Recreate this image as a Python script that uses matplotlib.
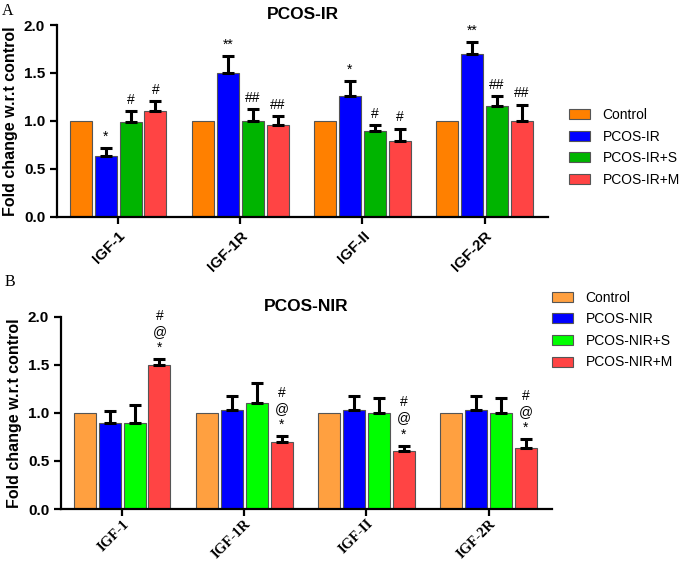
import numpy as np
import matplotlib
matplotlib.use("Agg")
import matplotlib.pyplot as plt

genes = ["IGF-1", "IGF-1R", "IGF-II", "IGF-2R"]

# panel A: PCOS-IR
groups_a = ["Control", "PCOS-IR", "PCOS-IR+S", "PCOS-IR+M"]
mean_a = [
    [1.00, 1.00, 1.00, 1.00],
    [0.63, 1.50, 1.26, 1.70],
    [0.99, 1.00, 0.90, 1.16],
    [1.10, 0.96, 0.79, 1.00],
]
err_a = [
    [0.00, 0.00, 0.00, 0.00],
    [0.09, 0.18, 0.16, 0.12],
    [0.11, 0.12, 0.06, 0.10],
    [0.11, 0.09, 0.13, 0.17],
]
sig_a = [
    ["", "", "", ""],
    ["*", "**", "*", "**"],
    ["#", "##", "#", "##"],
    ["#", "##", "#", "##"],
]

# panel B: PCOS-NIR
groups_b = ["Control", "PCOS-NIR", "PCOS-NIR+S", "PCOS-NIR+M"]
mean_b = [
    [1.00, 1.00, 1.00, 1.00],
    [0.90, 1.03, 1.03, 1.03],
    [0.90, 1.10, 1.00, 1.00],
    [1.50, 0.70, 0.60, 0.63],
]
err_b = [
    [0.00, 0.00, 0.00, 0.00],
    [0.12, 0.15, 0.15, 0.15],
    [0.18, 0.21, 0.16, 0.16],
    [0.06, 0.06, 0.06, 0.10],
]
sig_b = [
    ["", "", "", ""],
    ["", "", "", ""],
    ["", "", "", ""],
    ["#@*", "#@*", "#@*", "#@*"],
]

colors_a = ["#FF8000", "#0000FF", "#00B400", "#FF4444"]
colors_b = ["#FFA040", "#0000FF", "#00FF00", "#FF4444"]

SANS = "Liberation Sans"
SERIF = "Liberation Serif"

fig = plt.figure(figsize=(6.85, 5.62), dpi=100)
ax_a = fig.add_axes([0.0832, 0.614, 0.717, 0.3415])
ax_b = fig.add_axes([0.089, 0.0943, 0.717, 0.342])

bar_w = 0.18
step = 0.204


def draw_panel(ax, groups, means, errs, sigs, colors, title, tick_font, tick_size, xpad, stacked):
    x = np.arange(len(genes))
    handles = []
    for i, g in enumerate(groups):
        xs = x + (i - 1.5) * step
        h = ax.bar(xs, means[i], width=bar_w, color=colors[i], edgecolor="#555555",
                   linewidth=0.8, label=g, zorder=2)
        handles.append(h)
        up = np.array(errs[i])
        if up.any():
            ax.errorbar(xs, means[i], yerr=[np.zeros_like(up), up], fmt="none",
                        ecolor="black", elinewidth=2.2, capsize=4, capthick=2.2, zorder=3)
        for j in range(len(genes)):
            s = sigs[i][j]
            if not s:
                continue
            top = means[i][j] + errs[i][j]
            if stacked:
                for k, ch in enumerate(reversed(s)):
                    ax.annotate(ch, (xs[j], top), xytext=(0, 3 + k * 11.5),
                                textcoords="offset points", ha="center", va="bottom",
                                fontsize=10, family=SANS)
            else:
                ax.annotate(s, (xs[j], top), xytext=(0, 3), textcoords="offset points",
                            ha="center", va="bottom", fontsize=10, family=SANS)

    ax.set_xlim(-0.5, 3.52)
    ax.set_ylim(0, 2.0)
    ax.set_yticks([0.0, 0.5, 1.0, 1.5, 2.0])
    ax.set_yticklabels(["0.0", "0.5", "1.0", "1.5", "2.0"], family=SANS,
                       fontweight="bold", fontsize=11)
    ax.set_xticks(x)
    ax.set_xticklabels(genes, rotation=45, ha="right", rotation_mode="anchor",
                       family=tick_font, fontweight="bold", fontsize=tick_size)
    for side in ["top", "right"]:
        ax.spines[side].set_visible(False)
    for side in ["left", "bottom"]:
        ax.spines[side].set_linewidth(1.6)
    ax.tick_params(axis="both", width=1.6, length=5, direction="out")
    ax.tick_params(axis="x", pad=xpad)
    ax.set_ylabel("Fold change w.r.t control", family=SANS, fontweight="bold",
                  fontsize=11.5, labelpad=4)
    ax.set_title(title, family=SANS, fontweight="bold", fontsize=12.5, pad=4)
    return handles


h_a = draw_panel(ax_a, groups_a, mean_a, err_a, sig_a, colors_a, "PCOS-IR", SANS, 11, 3.5, False)
h_b = draw_panel(ax_b, groups_b, mean_b, err_b, sig_b, colors_b, "PCOS-NIR", SERIF, 10.5, 1.0, True)

leg_kw = dict(frameon=False, prop={"family": SANS, "size": 10}, handlelength=1.5,
              handleheight=0.75, labelspacing=0.55, handletextpad=0.9,
              borderaxespad=0, borderpad=0)
fig.legend(h_a, groups_a, loc="upper left", bbox_to_anchor=(0.831, 0.808), **leg_kw)
fig.legend(h_b, groups_b, loc="upper left", bbox_to_anchor=(0.806, 0.483), **leg_kw)

fig.text(0.003, 0.995, "A", family=SERIF, fontsize=11.5, va="top", ha="left")
fig.text(0.006, 0.512, "B", family=SERIF, fontsize=11.5, va="top", ha="left")

fig.savefig("out.png", dpi=100)
